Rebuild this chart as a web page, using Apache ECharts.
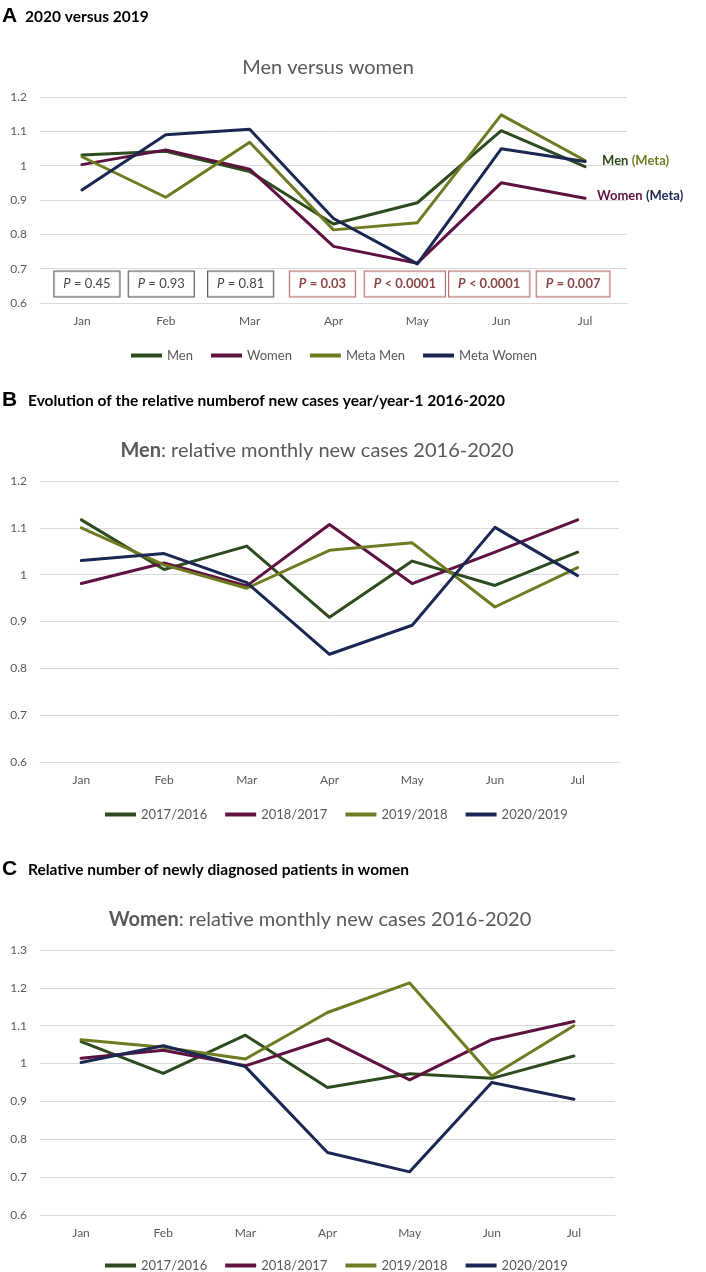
<!DOCTYPE html>
<html><head><meta charset="utf-8">
<script src="https://cdn.jsdelivr.net/npm/echarts@6/dist/echarts.min.js"></script>
<style>html,body{margin:0;padding:0;background:#fff}#c{width:706px;height:1272px}</style>
</head><body><div id="c"></div>
<script>
// ---------- data ----------
const months = ['Jan', 'Feb', 'Mar', 'Apr', 'May', 'Jun', 'Jul'];

// Panel A: 2020 versus 2019
const aMen       = [1.031, 1.042, 0.983, 0.830, 0.892, 1.102, 0.997];
const aWomen     = [1.003, 1.046, 0.990, 0.765, 0.716, 0.950, 0.905];
const aMetaMen   = [1.026, 0.908, 1.068, 0.813, 0.834, 1.148, 1.015];
const aMetaWomen = [0.929, 1.090, 1.106, 0.846, 0.714, 1.049, 1.012];
const pTexts     = ['= 0.45', '= 0.93', '= 0.81', '= 0.03', '< 0.0001', '< 0.0001', '= 0.007'];
const pSignif    = [false, false, false, true, true, true, true];

// Panel B: men, year/year-1
const bY1716 = [1.117, 1.011, 1.061, 0.909, 1.029, 0.977, 1.048];
const bY1817 = [0.981, 1.025, 0.976, 1.107, 0.981, 1.048, 1.117];
const bY1918 = [1.100, 1.021, 0.971, 1.052, 1.068, 0.931, 1.015];
const bY2019 = [1.030, 1.045, 0.983, 0.830, 0.892, 1.101, 0.998];

// Panel C: women, year/year-1
const cY1716 = [1.058, 0.974, 1.075, 0.937, 0.973, 0.961, 1.020];
const cY1817 = [1.014, 1.035, 0.994, 1.065, 0.957, 1.063, 1.111];
const cY1918 = [1.063, 1.043, 1.012, 1.135, 1.213, 0.967, 1.100];
const cY2019 = [1.003, 1.047, 0.992, 0.765, 0.714, 0.950, 0.906];

const legendA  = ['Men', 'Women', 'Meta Men', 'Meta Women'];
const legendBC = ['2017/2016', '2018/2017', '2019/2018', '2020/2019'];

// ---------- style ----------
const C_DG = '#2E4A1F', C_MR = '#5E1240', C_OL = '#6F7B22', C_NV = '#1B2752';
const GREY = '#595959', GRIDC = '#D9D9D9', FONT = 'Lato';
const boxShift = [5, -4.5, -9, -11, -12.5, -12, -12];

function xAxis(gi) {
  return {
    type: 'category', gridIndex: gi, data: months, boundaryGap: true,
    axisLine: { show: true, lineStyle: { color: GRIDC, width: 1 } },
    axisTick: { show: false },
    axisLabel: { color: GREY, fontSize: 12, fontFamily: FONT, margin: 12 }
  };
}
function yAxis(gi, max) {
  return {
    type: 'value', gridIndex: gi, min: 0.6, max: max, interval: 0.1,
    axisLine: { show: false }, axisTick: { show: false },
    splitLine: { lineStyle: { color: GRIDC, width: 1 } },
    axisLabel: { color: GREY, fontSize: 12, fontFamily: FONT, margin: 13,
      formatter: v => String(Math.round(v * 10) / 10) }
  };
}
function line(name, data, color, gi, extra) {
  return Object.assign({
    type: 'line', name: name, data: data, xAxisIndex: gi, yAxisIndex: gi,
    symbol: 'none', smooth: false, color: color,
    lineStyle: { color: color, width: 3, cap: 'round', join: 'round' }
  }, extra || {});
}
function legend(names, left, top) {
  return {
    data: names, left: left, top: top, icon: 'rect', itemWidth: 31, itemHeight: 4, itemGap: 18,
    selectedMode: false,
    textStyle: { color: GREY, fontSize: 13, fontFamily: FONT }
  };
}

const pBoxData = months.map((m, i) => {
  const sig = pSignif[i];
  const col = sig ? '#6E1414' : '#111111';
  const fw = sig ? 'bold' : 'normal';
  return {
    value: [i, 0.655],
    label: {
      offset: [boxShift[i], 0],
      borderColor: sig ? '#A84848' : '#333333',
      rich: {
        i: { fontStyle: 'italic', fontWeight: fw, fontSize: 13, fontFamily: FONT, color: col },
        n: { fontWeight: fw, fontSize: 13, fontFamily: FONT, color: col }
      }
    }
  };
});

const titleFont = '20px ' + FONT;
const headFont = 'bold 15.5px ' + FONT;
const option = {
  animation: false,
  grid: [
    { left: 40, top: 97, width: 587, height: 206 },
    { left: 40, top: 481, width: 579, height: 281 },
    { left: 40, top: 950, width: 575, height: 265 }
  ],
  xAxis: [xAxis(0), xAxis(1), xAxis(2)],
  yAxis: [yAxis(0, 1.2), yAxis(1, 1.2), yAxis(2, 1.3)],
  legend: [legend(legendA, 126, 344), legend(legendBC, 100, 803), legend(legendBC, 100, 1254)],
  graphic: [
    { type: 'text', x: 2, y: 16, style: { text: 'A', font: 'bold 21px "Liberation Sans"', fill: '#000', verticalAlign: 'middle' } },
    { type: 'text', x: 25, y: 17, style: { text: '2020 versus 2019', font: headFont, fill: '#000', verticalAlign: 'middle' } },
    { type: 'text', x: 328, y: 68, style: { text: 'Men versus women', font: titleFont, fill: GREY, align: 'center', verticalAlign: 'middle' } },
    { type: 'text', x: 2, y: 400, style: { text: 'B', font: 'bold 21px "Liberation Sans"', fill: '#000', verticalAlign: 'middle' } },
    { type: 'text', x: 28, y: 401, style: { text: 'Evolution of the relative numberof new cases year/year-1 2016-2020', font: headFont, fill: '#000', verticalAlign: 'middle' } },
    { type: 'text', x: 317, y: 451, style: { text: '{b|Men}: relative monthly new cases 2016-2020', font: titleFont, fill: GREY, align: 'center', verticalAlign: 'middle',
        rich: { b: { fontWeight: 'bold', fontSize: 20, fontFamily: FONT, fill: GREY } } } },
    { type: 'text', x: 2, y: 869, style: { text: 'C', font: 'bold 21px "Liberation Sans"', fill: '#000', verticalAlign: 'middle' } },
    { type: 'text', x: 28, y: 870, style: { text: 'Relative number of newly diagnosed patients in women', font: headFont, fill: '#000', verticalAlign: 'middle' } },
    { type: 'text', x: 320, y: 920, style: { text: '{b|Women}: relative monthly new cases 2016-2020', font: titleFont, fill: GREY, align: 'center', verticalAlign: 'middle',
        rich: { b: { fontWeight: 'bold', fontSize: 20, fontFamily: FONT, fill: GREY } } } }
  ],
  series: [
    line('Men', aMen, C_DG, 0),
    line('Women', aWomen, C_MR, 0, {
      endLabel: { show: true, distance: 12, offset: [0, -2],
        formatter: '{a|Women} {b|(Meta)}',
        rich: { a: { color: C_MR, fontWeight: 'bold', fontSize: 13, fontFamily: FONT },
                b: { color: C_NV, fontWeight: 'bold', fontSize: 13, fontFamily: FONT } } }
    }),
    line('Meta Men', aMetaMen, C_OL, 0, {
      endLabel: { show: true, distance: 17, offset: [0, 0],
        formatter: '{a|Men} {b|(Meta)}',
        rich: { a: { color: C_DG, fontWeight: 'bold', fontSize: 13, fontFamily: FONT },
                b: { color: C_OL, fontWeight: 'bold', fontSize: 13, fontFamily: FONT } } }
    }),
    line('Meta Women', aMetaWomen, C_NV, 0),
    {
      type: 'scatter', xAxisIndex: 0, yAxisIndex: 0, symbolSize: 1, silent: true, z: 10,
      itemStyle: { color: 'rgba(0,0,0,0)' },
      data: pBoxData,
      label: {
        show: true, position: 'inside', backgroundColor: '#fff', borderWidth: 1,
        padding: [6, 9],
        formatter: p => '{i|P} {n|' + pTexts[p.dataIndex] + '}'
      }
    },
    line('2017/2016', bY1716, C_DG, 1),
    line('2018/2017', bY1817, C_MR, 1),
    line('2019/2018', bY1918, C_OL, 1),
    line('2020/2019', bY2019, C_NV, 1),
    line('2017/2016', cY1716, C_DG, 2),
    line('2018/2017', cY1817, C_MR, 2),
    line('2019/2018', cY1918, C_OL, 2),
    line('2020/2019', cY2019, C_NV, 2)
  ]
};
const chart = echarts.init(document.getElementById('c'));
chart.setOption(option);
</script>
</body></html>
